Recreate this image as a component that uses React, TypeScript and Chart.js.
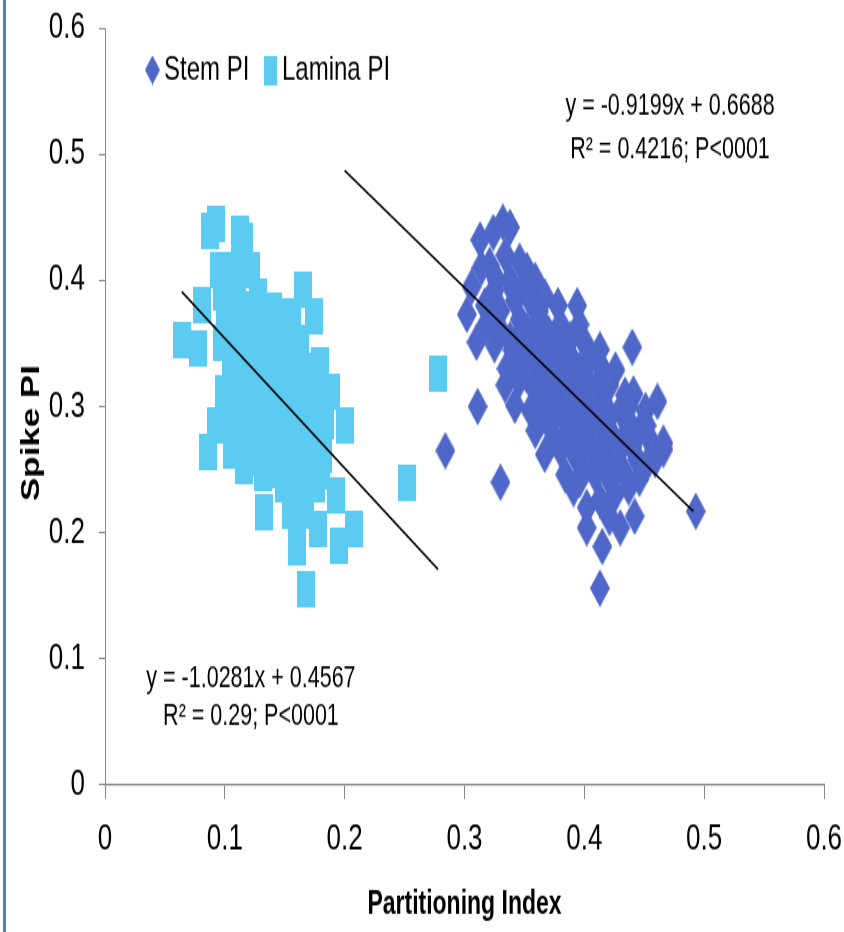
import { useEffect, useRef } from 'react';
import { Chart, registerables } from 'chart.js';

Chart.register(...registerables);

// ---------------- data ----------------
const X_TICKS = [0, 0.1, 0.2, 0.3, 0.4, 0.5, 0.6];
const Y_TICKS = [0, 0.1, 0.2, 0.3, 0.4, 0.5, 0.6];
const SERIES_NAMES = ['Stem PI', 'Lamina PI'];
const X_TITLE = 'Partitioning Index';
const Y_TITLE = 'Spike PI';

const STEM_PI: [number, number][] = [
  [0.313, 0.432], [0.324, 0.438], [0.332, 0.446], [0.338, 0.442],
  [0.321, 0.412], [0.334, 0.420], [0.346, 0.415], [0.352, 0.408], [0.359, 0.400],
  [0.338, 0.400], [0.325, 0.392], [0.306, 0.395], [0.327, 0.400], [0.350, 0.395],
  [0.302, 0.373], [0.317, 0.380], [0.330, 0.376], [0.342, 0.384], [0.355, 0.384],
  [0.367, 0.387], [0.378, 0.380], [0.394, 0.380], [0.346, 0.369], [0.363, 0.369],
  [0.380, 0.365], [0.396, 0.365], [0.318, 0.365], [0.362, 0.375],
  [0.310, 0.351], [0.325, 0.349], [0.338, 0.353], [0.350, 0.349], [0.363, 0.353],
  [0.376, 0.349], [0.388, 0.353], [0.401, 0.349], [0.413, 0.345], [0.346, 0.333],
  [0.363, 0.329], [0.380, 0.337], [0.396, 0.329], [0.413, 0.333], [0.426, 0.329],
  [0.440, 0.347], [0.330, 0.360], [0.355, 0.340], [0.372, 0.340], [0.388, 0.340],
  [0.405, 0.338], [0.352, 0.360], [0.370, 0.358], [0.335, 0.330],
  [0.360, 0.345], [0.345, 0.355], [0.378, 0.322], [0.352, 0.325], [0.340, 0.345],
  [0.325, 0.370], [0.340, 0.393], [0.314, 0.410], [0.365, 0.310],
  [0.311, 0.300], [0.334, 0.317], [0.346, 0.321], [0.359, 0.313], [0.371, 0.317],
  [0.384, 0.313], [0.396, 0.317], [0.409, 0.313], [0.421, 0.317], [0.434, 0.309],
  [0.441, 0.310], [0.461, 0.304], [0.342, 0.301], [0.355, 0.297], [0.367, 0.301],
  [0.380, 0.297], [0.392, 0.301], [0.405, 0.297], [0.417, 0.301], [0.430, 0.297],
  [0.451, 0.297], [0.386, 0.325], [0.402, 0.322], [0.418, 0.322], [0.372, 0.306],
  [0.388, 0.306], [0.405, 0.306], [0.395, 0.295], [0.412, 0.292], [0.437, 0.300],
  [0.359, 0.281], [0.371, 0.285], [0.384, 0.277], [0.396, 0.283], [0.409, 0.277],
  [0.421, 0.281], [0.434, 0.277], [0.446, 0.281], [0.455, 0.273], [0.466, 0.271],
  [0.367, 0.262], [0.380, 0.266], [0.392, 0.262], [0.405, 0.266], [0.417, 0.262],
  [0.430, 0.266], [0.444, 0.258], [0.459, 0.258], [0.466, 0.266], [0.452, 0.254],
  [0.420, 0.290], [0.436, 0.290], [0.404, 0.288], [0.388, 0.290], [0.372, 0.292],
  [0.415, 0.270], [0.400, 0.272], [0.428, 0.254], [0.412, 0.254], [0.398, 0.254],
  [0.425, 0.272], [0.440, 0.268], [0.452, 0.285], [0.362, 0.290], [0.375, 0.275],
  [0.392, 0.270], [0.408, 0.258], [0.420, 0.250],
  [0.284, 0.265],
  [0.384, 0.246], [0.396, 0.242], [0.409, 0.246], [0.421, 0.242], [0.434, 0.246],
  [0.446, 0.243], [0.391, 0.235], [0.402, 0.220], [0.413, 0.226], [0.426, 0.231],
  [0.437, 0.236], [0.442, 0.213], [0.330, 0.240], [0.493, 0.217],
  [0.402, 0.204], [0.415, 0.189], [0.430, 0.204], [0.421, 0.212],
  [0.413, 0.156],
];

const LAMINA_PI: [number, number][] = [
  [0.093, 0.445], [0.088, 0.439], [0.113, 0.437], [0.116, 0.431],
  [0.095, 0.408], [0.109, 0.408], [0.122, 0.408],
  [0.098, 0.390], [0.110, 0.392], [0.128, 0.387],
  [0.081, 0.380], [0.165, 0.393], [0.174, 0.371], [0.150, 0.372], [0.156, 0.368],
  [0.064, 0.353], [0.078, 0.346],
  [0.100, 0.375], [0.113, 0.377], [0.127, 0.374], [0.140, 0.376],
  [0.098, 0.350], [0.110, 0.352], [0.123, 0.348], [0.136, 0.351], [0.149, 0.347], [0.163, 0.350],
  [0.105, 0.330], [0.118, 0.328], [0.131, 0.331], [0.144, 0.327], [0.157, 0.330], [0.170, 0.328], [0.179, 0.333],
  [0.099, 0.310], [0.112, 0.308], [0.125, 0.311], [0.138, 0.307], [0.151, 0.310], [0.164, 0.306], [0.177, 0.311], [0.189, 0.312],
  [0.093, 0.285], [0.106, 0.288], [0.119, 0.284], [0.132, 0.287], [0.145, 0.283], [0.158, 0.287], [0.171, 0.284], [0.184, 0.288], [0.200, 0.285],
  [0.086, 0.264],
  [0.106, 0.265], [0.117, 0.260], [0.130, 0.263], [0.143, 0.259], [0.156, 0.262], [0.169, 0.258], [0.182, 0.262],
  [0.116, 0.253], [0.132, 0.247], [0.143, 0.250], [0.156, 0.246], [0.169, 0.251], [0.180, 0.248],
  [0.149, 0.238], [0.162, 0.236], [0.176, 0.238], [0.193, 0.230],
  [0.133, 0.216], [0.155, 0.217], [0.167, 0.217],
  [0.160, 0.188], [0.178, 0.203], [0.195, 0.190], [0.208, 0.203], [0.168, 0.155],
  [0.252, 0.239], [0.278, 0.326],
];

// trend-line end points
const STEM_TREND: [number, number][] = [[0.200, 0.487], [0.491, 0.217]];
const LAMINA_TREND: [number, number][] = [[0.064, 0.391], [0.278, 0.171]];

const STEM_EQUATION = ['y = -0.9199x + 0.6688', 'R² = 0.4216; P<0001'];
const LAMINA_EQUATION = ['y = -1.0281x + 0.4567', 'R² = 0.29; P<0001'];

// ---------------- layout / style ----------------
const W = 844;
const H_CSS = 932;
const H = 666; // internal canvas height, stretched vertically to H_CSS
const SY = H_CSS / H;
const FONT = "'Liberation Sans', Arial, sans-serif";
const STEM_COLOR = '#4e67c8';
const LAMINA_COLOR = '#5ccbf1';
const AXIS_COLOR = '#898989';

const PLOT_LEFT = 105;
const PLOT_RIGHT = 824;
const PLOT_TOP = 28 / SY;
const PLOT_BOTTOM = 785 / SY;

// label anchors in data units
const STEM_EQ_POS = { x: 0.4715, y1: 0.538, y2: 0.503 };
const LAMINA_EQ_POS = { x: 0.1218, y1: 0.084, y2: 0.054 };

function makeDiamond(w: number, h: number, color: string) {
  const c = document.createElement('canvas');
  c.width = w;
  c.height = h;
  const g = c.getContext('2d')!;
  g.fillStyle = color;
  g.beginPath();
  g.moveTo(w / 2, 0);
  g.lineTo(w, h / 2);
  g.lineTo(w / 2, h);
  g.lineTo(0, h / 2);
  g.closePath();
  g.fill();
  return c;
}

function makeRect(w: number, h: number, color: string) {
  const c = document.createElement('canvas');
  c.width = w;
  c.height = h;
  const g = c.getContext('2d')!;
  g.fillStyle = color;
  g.fillRect(0, 0, w, h);
  return c;
}

const fmt = (v: number) => {
  const s = Number(v).toFixed(1);
  return s === '0.0' ? '0' : s;
};

export default function App() {
  const ref = useRef<HTMLCanvasElement | null>(null);

  useEffect(() => {
    const canvas = ref.current;
    if (!canvas) return;

    const diamond = makeDiamond(20, 27, STEM_COLOR);
    const square = makeRect(18, 26, LAMINA_COLOR);
    const legendDiamond = makeDiamond(15, 21, STEM_COLOR);
    const legendSquare = makeRect(13, 21, LAMINA_COLOR);

    const decor = {
      id: 'decor',
      beforeDraw(chart: any) {
        const ctx = chart.ctx;
        ctx.save();
        ctx.fillStyle = '#ffffff';
        ctx.fillRect(0, 0, chart.width, chart.height);
        ctx.fillStyle = '#4f81bd';
        ctx.fillRect(3, 0, 3, chart.height);
        ctx.restore();
      },
      afterDraw(chart: any) {
        const ctx = chart.ctx;
        const xs = chart.scales.x;
        const ys = chart.scales.y;
        ctx.save();
        ctx.setTransform(1, 0, 0, 1, 0, 0);
        ctx.fillStyle = '#000';
        ctx.textAlign = 'center';
        ctx.textBaseline = 'middle';
        ctx.font = `21.5px ${FONT}`;
        ctx.fillText(STEM_EQUATION[0], xs.getPixelForValue(STEM_EQ_POS.x), ys.getPixelForValue(STEM_EQ_POS.y1));
        ctx.fillText(STEM_EQUATION[1], xs.getPixelForValue(STEM_EQ_POS.x), ys.getPixelForValue(STEM_EQ_POS.y2));
        ctx.fillText(LAMINA_EQUATION[0], xs.getPixelForValue(LAMINA_EQ_POS.x), ys.getPixelForValue(LAMINA_EQ_POS.y1));
        ctx.fillText(LAMINA_EQUATION[1], xs.getPixelForValue(LAMINA_EQ_POS.x), ys.getPixelForValue(LAMINA_EQ_POS.y2));

        // legend
        const ly = 50;
        ctx.drawImage(legendDiamond, 152.5 - 7.5, ly - 10.5);
        ctx.drawImage(legendSquare, 270 - 6.5, ly - 10.5);
        ctx.textAlign = 'left';
        ctx.font = `24px ${FONT}`;
        ctx.fillText(SERIES_NAMES[0], 164, ly + 0.5);
        ctx.fillText(SERIES_NAMES[1], 282, ly + 0.5);

        // y title
        ctx.translate(32, 433 / SY);
        ctx.rotate(-Math.PI / 2);
        ctx.textAlign = 'center';
        ctx.textBaseline = 'middle';
        ctx.font = `bold 25px ${FONT}`;
        ctx.fillText(Y_TITLE, 0, 0);
        ctx.restore();
      },
    };

    const toPts = (arr: [number, number][]) => arr.map(([x, y]) => ({ x, y }));

    const chart = new Chart(canvas, {
      type: 'scatter',
      data: {
        datasets: [
          {
            label: 'Stem trend',
            data: toPts(STEM_TREND),
            showLine: true,
            borderColor: '#000',
            borderWidth: 1.6,
            pointRadius: 0,
            order: 0,
          },
          {
            label: 'Lamina trend',
            data: toPts(LAMINA_TREND),
            showLine: true,
            borderColor: '#000',
            borderWidth: 1.6,
            pointRadius: 0,
            order: 0,
          },
          {
            label: SERIES_NAMES[1],
            data: toPts(LAMINA_PI),
            pointStyle: square as any,
            pointRadius: 6,
            backgroundColor: LAMINA_COLOR,
            order: 1,
          },
          {
            label: SERIES_NAMES[0],
            data: toPts(STEM_PI),
            pointStyle: diamond as any,
            pointRadius: 6,
            backgroundColor: STEM_COLOR,
            order: 2,
          },
        ],
      },
      options: {
        responsive: false,
        animation: false,
        devicePixelRatio: 1,
        layout: { autoPadding: false, padding: { top: PLOT_TOP, right: W - PLOT_RIGHT, bottom: 0, left: 0 } },
        plugins: { legend: { display: false }, tooltip: { enabled: false } },
        scales: {
          x: {
            type: 'linear',
            min: X_TICKS[0],
            max: X_TICKS[X_TICKS.length - 1],
            afterBuildTicks: (s: any) => {
              s.ticks = X_TICKS.map((v) => ({ value: v }));
            },
            afterFit: (s: any) => {
              s.height = H - PLOT_BOTTOM;
              s.paddingLeft = 0;
              s.paddingRight = 0;
              s.paddingTop = 0;
              s.paddingBottom = 0;
            },
            ticks: {
              callback: (v: any) => fmt(v),
              font: { family: FONT, size: 26 },
              color: '#000',
              padding: 13,
              maxRotation: 0,
              autoSkip: false,
            },
            grid: {
              display: true,
              drawOnChartArea: false,
              drawTicks: true,
              tickLength: 14 / SY,
              color: AXIS_COLOR,
              lineWidth: 1,
            },
            border: { display: true, color: AXIS_COLOR, width: 1.3 },
            title: {
              display: true,
              text: X_TITLE,
              color: '#000',
              font: { family: FONT, size: 23, weight: 'bold' },
              padding: { top: 0, bottom: 5.5 },
            },
          },
          y: {
            type: 'linear',
            min: Y_TICKS[0],
            max: Y_TICKS[Y_TICKS.length - 1],
            afterBuildTicks: (s: any) => {
              s.ticks = Y_TICKS.map((v) => ({ value: v }));
            },
            afterFit: (s: any) => {
              s.width = PLOT_LEFT;
              s.paddingLeft = 0;
              s.paddingRight = 0;
              s.paddingTop = 0;
              s.paddingBottom = 0;
            },
            ticks: {
              callback: (v: any) => fmt(v),
              font: { family: FONT, size: 26 },
              color: '#000',
              padding: 14,
              autoSkip: false,
            },
            grid: {
              display: true,
              drawOnChartArea: false,
              drawTicks: true,
              tickLength: 6,
              color: AXIS_COLOR,
              lineWidth: 1,
            },
            border: { display: true, color: AXIS_COLOR, width: 1 },
          },
        },
      },
      plugins: [decor],
    } as any);

    return () => chart.destroy();
  }, []);

  return (
    <div style={{ position: 'absolute', left: 0, top: 0, width: W, height: H_CSS, background: '#fff' }}>
      <canvas
        ref={ref}
        width={W}
        height={H}
        style={{ width: `${W}px`, height: `${H_CSS}px`, display: 'block' }}
      />
    </div>
  );
}
